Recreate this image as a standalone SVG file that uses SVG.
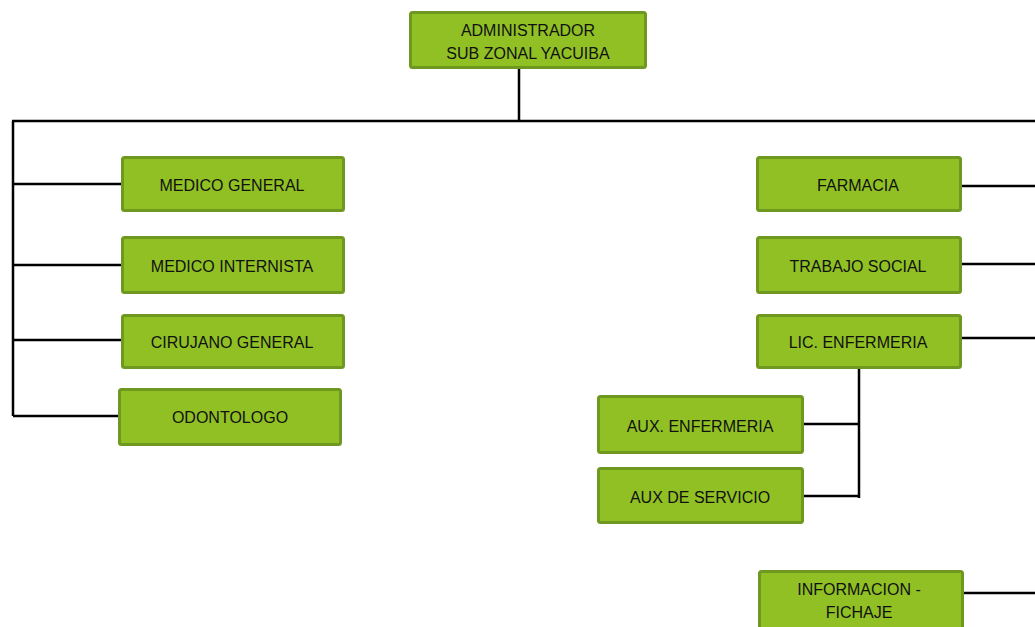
<svg xmlns="http://www.w3.org/2000/svg" width="1035" height="627" viewBox="0 0 1035 627">
<style>
.box{fill:#90C024;stroke:#6E9820;stroke-width:3}
.t{font-family:"Liberation Sans",Arial,sans-serif;font-size:16px;fill:#111;text-anchor:middle;dominant-baseline:central}
.c{stroke:#000;stroke-width:2.5;fill:none}
</style>
<rect width="1035" height="627" fill="#fff"/>
<g id="connectors">
<path class="c" d="M519 68V121M12 121H1035M13 121V416"/>
<path class="c" d="M13 184H122M13 265H122M13 340H122M13 416H119"/>
<path class="c" d="M961 186H1035M961 264H1035M961 338H1035M963 593H1035"/>
<path class="c" d="M859 367V498M803 424H859M803 496H859"/>
</g>
<g id="admin"><rect class="box" x="410.5" y="12.5" width="235" height="55" rx="2"/><text class="t" x="528" y="30">ADMINISTRADOR</text><text class="t" x="528" y="53">SUB ZONAL YACUIBA</text></g>
<g id="medico-general"><rect class="box" x="122.5" y="157.5" width="221" height="53" rx="2"/><text class="t" x="232" y="185">MEDICO GENERAL</text></g>
<g id="medico-internista"><rect class="box" x="122.5" y="237.5" width="221" height="55" rx="2"/><text class="t" x="232" y="266">MEDICO INTERNISTA</text></g>
<g id="cirujano-general"><rect class="box" x="122.5" y="315.5" width="221" height="52" rx="2"/><text class="t" x="232" y="342">CIRUJANO GENERAL</text></g>
<g id="odontologo"><rect class="box" x="119.5" y="389.5" width="221" height="55" rx="2"/><text class="t" x="230" y="417">ODONTOLOGO</text></g>
<g id="farmacia"><rect class="box" x="757.5" y="157.5" width="203" height="53" rx="2"/><text class="t" x="858" y="185">FARMACIA</text></g>
<g id="trabajo-social"><rect class="box" x="757.5" y="237.5" width="203" height="55" rx="2"/><text class="t" x="858" y="266">TRABAJO SOCIAL</text></g>
<g id="lic-enfermeria"><rect class="box" x="757.5" y="315.5" width="203" height="52" rx="2"/><text class="t" x="858" y="342">LIC. ENFERMERIA</text></g>
<g id="aux-enfermeria"><rect class="box" x="598.5" y="396.5" width="204" height="56" rx="2"/><text class="t" x="700" y="426">AUX. ENFERMERIA</text></g>
<g id="aux-servicio"><rect class="box" x="598.5" y="468.5" width="204" height="54" rx="2"/><text class="t" x="700" y="497">AUX DE SERVICIO</text></g>
<g id="informacion"><rect class="box" x="759.5" y="571.5" width="203" height="62" rx="2"/><text class="t" x="859" y="589">INFORMACION -</text><text class="t" x="859" y="612">FICHAJE</text></g>
</svg>
